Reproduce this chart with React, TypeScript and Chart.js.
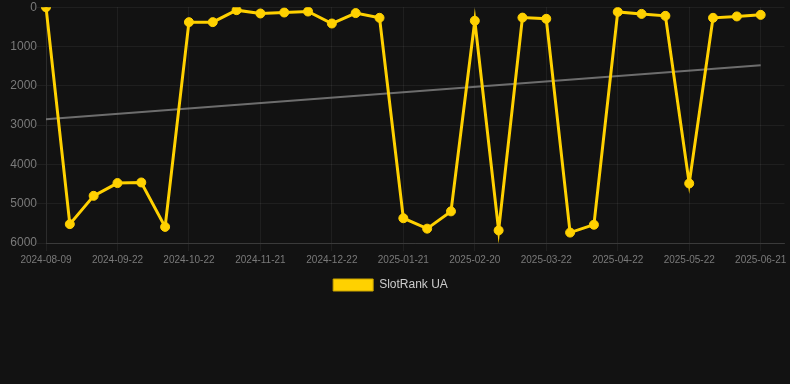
import React, { useEffect, useRef } from "react";
import { Chart, registerables } from "chart.js";

Chart.register(...registerables);

const labels: string[] = [
  "2024-08-09", "2024-09-02", "2024-09-12", "2024-09-22", "2024-10-02", "2024-10-12",
  "2024-10-22", "2024-11-01", "2024-11-11", "2024-11-21", "2024-12-01", "2024-12-11",
  "2024-12-22", "2025-01-01", "2025-01-11", "2025-01-21", "2025-01-31", "2025-02-10",
  "2025-02-20", "2025-03-02", "2025-03-12", "2025-03-22", "2025-04-01", "2025-04-11",
  "2025-04-22", "2025-05-02", "2025-05-12", "2025-05-22", "2025-06-01", "2025-06-11",
  "2025-06-21", "2025-07-01",
];

const rankValues: (number | null)[] = [
  0, 5520, 4800, 4475, 4460, 5590, 380, 380, 75, 160, 135, 110, 415, 150, 270,
  5370, 5635, 5195, 345, 5680, 265, 295, 5735, 5535, 120, 170, 220, 4485, 270,
  235, 195,
];

const trendStart = 2850;
const trendEnd = 1475;
const trendValues: (number | null)[] = rankValues.map((_, i) =>
  i === 0 ? trendStart : i === rankValues.length - 1 ? trendEnd : null
);

const yTicks = [0, 1000, 2000, 3000, 4000, 5000, 6000];

const legendShift = {
  id: "legendShift",
  afterLayout(chart: any) {
    if (chart.legend) {
      chart.legend.left -= 6;
      chart.legend.right -= 6;
    }
  },
};

export default function App() {
  const ref = useRef<HTMLCanvasElement | null>(null);

  useEffect(() => {
    document.body.style.margin = "0";
    document.body.style.background = "#121212";
    const ctx = ref.current!;
    const chart = new Chart(ctx, {
      type: "line",
      plugins: [legendShift],
      data: {
        labels,
        datasets: [
          {
            label: "SlotRank UA",
            data: rankValues,
            borderColor: "#FFD100",
            backgroundColor: "#FFD100",
            borderWidth: 3,
            pointRadius: 4.5,
            pointBorderWidth: 1,
            pointHoverRadius: 4.5,
            pointBackgroundColor: "#FFD100",
            pointBorderColor: "#FFD100",
            tension: 0,
          },
          {
            label: "trend",
            data: trendValues,
            borderColor: "rgba(140,140,140,0.75)",
            backgroundColor: "rgba(140,140,140,0.75)",
            borderWidth: 2,
            pointRadius: 0,
            spanGaps: true,
          },
        ],
      },
      options: {
        animation: false,
        responsive: false,
        maintainAspectRatio: false,
        layout: { padding: { left: 0, right: -3, top: 0, bottom: 0 } },
        plugins: {
          legend: {
            position: "bottom",
            labels: {
              color: "#cccccc",
              font: { size: 12, family: "Arial, Helvetica, sans-serif" },
              boxWidth: 40,
              boxHeight: 12,
              filter: (item) => item.text !== "trend",
              generateLabels: (c) =>
                Chart.defaults.plugins.legend.labels
                  .generateLabels(c)
                  .map((l) => ({ ...l, lineWidth: 1, strokeStyle: "#C9A400" })),
            },
          },
          tooltip: { enabled: false },
        },
        scales: {
          x: {
            type: "category",
            grid: { color: "rgba(255,255,255,0.06)", tickLength: 8 },
            border: { color: "rgba(255,255,255,0.12)" },
            ticks: {
              color: "#7a7a7a",
              font: { size: 10, family: "Arial, Helvetica, sans-serif" },
              maxRotation: 0,
              autoSkip: true,
              maxTicksLimit: 11,
            },
          },
          y: {
            reverse: true,
            min: 0,
            max: 6000,
            afterBuildTicks: (axis) => {
              axis.ticks = yTicks.map((v) => ({ value: v }));
            },
            afterFit: (axis) => {
              axis.width = 46;
            },
            grid: { color: "rgba(255,255,255,0.06)", tickLength: 9 },
            border: { color: "rgba(255,255,255,0.06)" },
            ticks: {
              color: "#7a7a7a",
              padding: 0,
              font: { size: 12, family: "Arial, Helvetica, sans-serif" },
              callback: (v) => String(v),
            },
          },
        },
      },
    });
    return () => chart.destroy();
  }, []);

  return (
    <div style={{ width: 790, height: 384, background: "#121212" }}>
      <canvas ref={ref} width={790} height={301} style={{ display: "block" }} />
    </div>
  );
}
